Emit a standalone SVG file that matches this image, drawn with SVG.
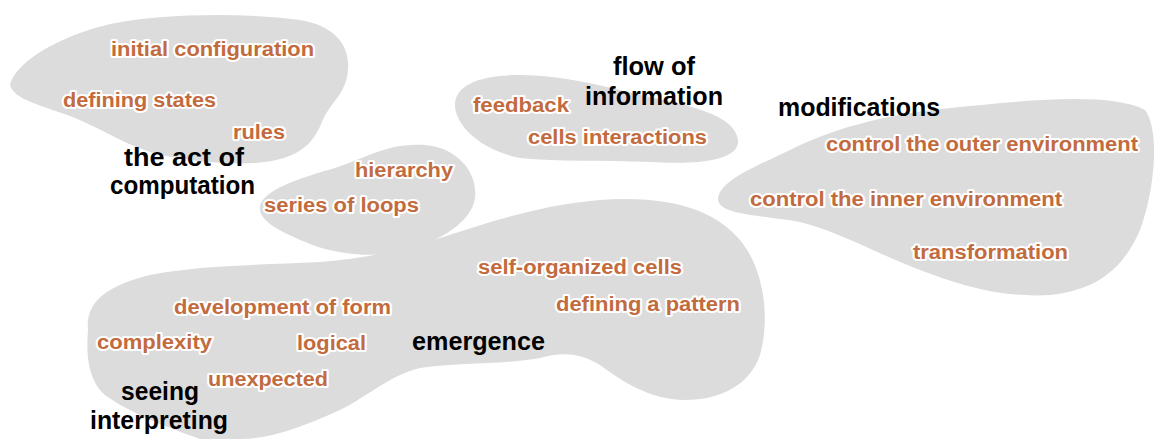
<svg xmlns="http://www.w3.org/2000/svg" width="1158" height="439" viewBox="0 0 1158 439">
<style>
.blob{fill:#dcdcdc;stroke:none}
.o{font-family:"Liberation Sans",Arial,sans-serif;font-weight:bold;font-size:20px;fill:#c26b3e;stroke:#ffffff;stroke-width:4;stroke-linejoin:round;paint-order:stroke}
.k{font-family:"Liberation Sans",Arial,sans-serif;font-weight:bold;font-size:25px;fill:#000000}
</style>
<rect width="1158" height="439" fill="#ffffff"/>
<g id="computation">
<path class="blob" d="M10,84 C18,60 60,36 110,24 C160,14 240,12 300,20 C335,26 350,45 348,70 C346,95 330,102 322,122 C312,147 295,160 255,163 C220,165 180,160 150,152 C120,142 100,128 75,118 C45,106 12,100 10,84 Z"/>
<text class="o" x="111" y="56" textLength="203" lengthAdjust="spacingAndGlyphs">initial configuration</text>
<text class="o" x="63" y="107" textLength="153" lengthAdjust="spacingAndGlyphs">defining states</text>
<text class="o" x="233" y="139" textLength="52" lengthAdjust="spacingAndGlyphs">rules</text>
<text class="k" x="124" y="166" textLength="120" lengthAdjust="spacingAndGlyphs">the act of</text>
<text class="k" x="110" y="194" textLength="145" lengthAdjust="spacingAndGlyphs">computation</text>
</g>
<g id="loops">
<path class="blob" d="M260,207 C262,190 300,178 335,168 C365,158 390,142 425,145 C460,148 478,175 475,198 C472,222 440,240 410,250 C380,258 340,256 310,244 C285,234 258,222 260,207 Z"/>
<text class="o" x="355" y="177" textLength="98" lengthAdjust="spacingAndGlyphs">hierarchy</text>
<text class="o" x="264" y="212" textLength="155" lengthAdjust="spacingAndGlyphs">series of loops</text>
</g>
<g id="information">
<path class="blob" d="M455,105 C455,85 480,75 520,75 C560,75 600,85 640,95 C690,105 735,115 738,140 C740,160 700,165 650,162 C600,160 560,162 520,158 C480,150 455,125 455,105 Z"/>
<text class="o" x="473" y="112" textLength="96" lengthAdjust="spacingAndGlyphs">feedback</text>
<text class="o" x="528" y="144" textLength="179" lengthAdjust="spacingAndGlyphs">cells interactions</text>
<text class="k" x="613" y="75" textLength="82" lengthAdjust="spacingAndGlyphs">flow of</text>
<text class="k" x="585" y="105" textLength="138" lengthAdjust="spacingAndGlyphs">information</text>
</g>
<g id="modifications">
<path class="blob" d="M718,200 C718,180 760,165 790,150 C830,130 880,115 950,108 C1030,100 1110,92 1145,110 C1160,130 1155,190 1140,230 C1125,265 1100,290 1050,295 C1000,298 960,285 920,270 C880,255 840,232 800,222 C760,215 720,215 718,200 Z"/>
<text class="k" x="778" y="116" textLength="162" lengthAdjust="spacingAndGlyphs">modifications</text>
<text class="o" x="826" y="151" textLength="312" lengthAdjust="spacingAndGlyphs">control the outer environment</text>
<text class="o" x="750" y="206" textLength="312" lengthAdjust="spacingAndGlyphs">control the inner environment</text>
<text class="o" x="913" y="259" textLength="155" lengthAdjust="spacingAndGlyphs">transformation</text>
</g>
<g id="emergence">
<path class="blob" d="M88,330 C85,300 110,285 150,275 C200,265 260,265 320,262 C370,258 400,250 440,238 C490,222 540,205 600,200 C660,196 710,205 740,240 C765,270 770,320 760,355 C750,385 720,400 685,400 C650,400 620,380 600,365 C580,352 560,352 540,358 C500,365 460,362 420,368 C390,375 370,395 340,410 C300,428 270,439 240,439 L200,439 C160,425 125,410 105,395 C88,380 86,355 88,330 Z"/>
<text class="o" x="478" y="274" textLength="204" lengthAdjust="spacingAndGlyphs">self-organized cells</text>
<text class="o" x="556" y="311" textLength="184" lengthAdjust="spacingAndGlyphs">defining a pattern</text>
<text class="o" x="174" y="314" textLength="217" lengthAdjust="spacingAndGlyphs">development of form</text>
<text class="o" x="97" y="349" textLength="115" lengthAdjust="spacingAndGlyphs">complexity</text>
<text class="o" x="297" y="350" textLength="69" lengthAdjust="spacingAndGlyphs">logical</text>
<text class="o" x="208" y="386" textLength="120" lengthAdjust="spacingAndGlyphs">unexpected</text>
<text class="k" x="412" y="350" textLength="133" lengthAdjust="spacingAndGlyphs">emergence</text>
<text class="k" x="121" y="400" textLength="78" lengthAdjust="spacingAndGlyphs">seeing</text>
<text class="k" x="90" y="429" textLength="138" lengthAdjust="spacingAndGlyphs">interpreting</text>
</g>
</svg>
